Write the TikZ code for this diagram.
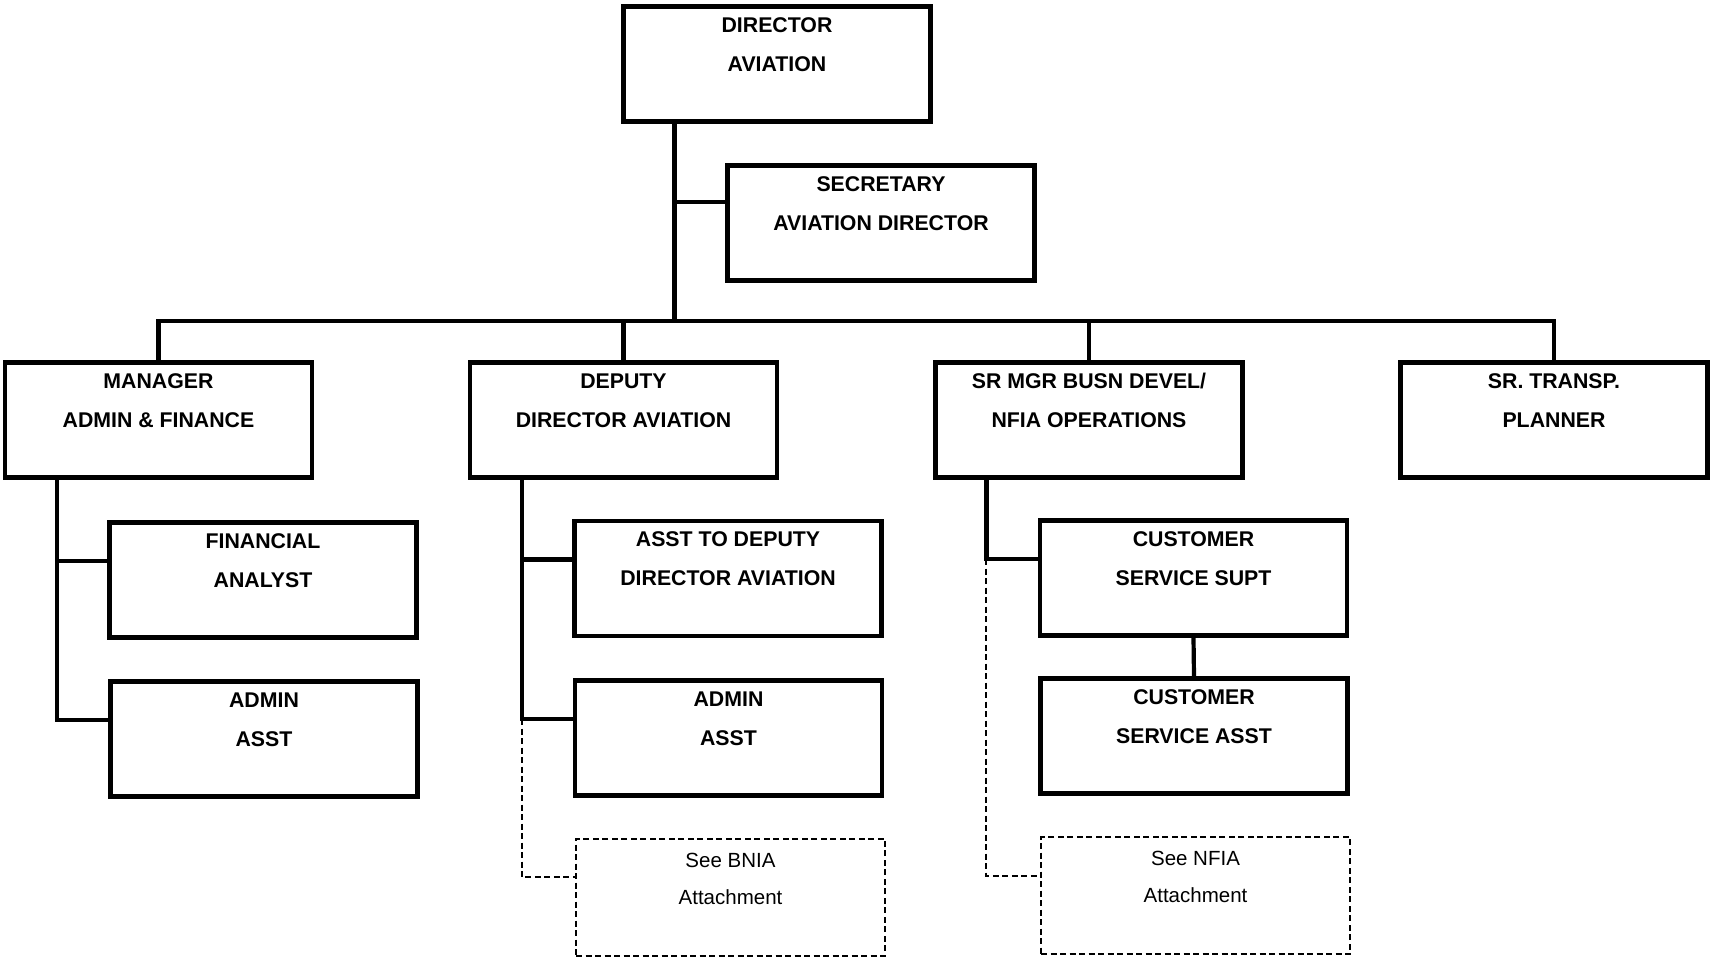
\documentclass[tikz,border=0pt]{standalone}
\usepackage{fontspec}
\setmainfont{Liberation Sans}
\usetikzlibrary{calc}

\tikzset{
  post/.style={draw, line width=4.2pt, rectangle, minimum width=307pt,
    minimum height=115pt, inner sep=0pt, align=center,
    font=\bfseries\fontsize{21.3}{39}\selectfont},
  ref/.style={draw, line width=2pt, dash pattern=on 6pt off 3.5pt,
    rectangle, minimum width=309pt, minimum height=117pt, inner sep=0pt,
    align=center, font=\fontsize{20.5}{37}\selectfont},
  link/.style={line width=4.2pt},
  dashlink/.style={line width=2pt, dash pattern=on 6pt off 3.5pt}
}

\begin{document}
\begin{tikzpicture}[x=1pt, y=-1pt]
  \useasboundingbox (0,0) rectangle (1711,960);

  % top level
  \node[post] (dir) at (777,64)   {DIRECTOR\\AVIATION\\~};
  \node[post] (sec) at (881,223)  {SECRETARY\\AVIATION DIRECTOR\\~};

  % second level
  \node[post] (mgr) at (158.5,420)  {MANAGER\\ADMIN \& FINANCE\\~};
  \node[post] (dep) at (623.5,420)  {DEPUTY\\DIRECTOR AVIATION\\~};
  \node[post] (srm) at (1089,420)   {SR MGR BUSN DEVEL/\\NFIA OPERATIONS\\~};
  \node[post] (trn) at (1554,420)   {SR. TRANSP.\\PLANNER\\~};

  % third level
  \node[post] (fin)  at (263,580)   {FINANCIAL\\ANALYST\\~};
  \node[post] (adm1) at (264,739)   {ADMIN\\ASST\\~};
  \node[post] (atd)  at (728,578.5) {ASST TO DEPUTY\\DIRECTOR AVIATION\\~};
  \node[post] (adm2) at (728.5,738) {ADMIN\\ASST\\~};
  \node[post] (css)  at (1193.5,578) {CUSTOMER\\SERVICE SUPT\\~};
  \node[post] (csa)  at (1194,736)  {CUSTOMER\\SERVICE ASST\\~};

  % references to attachments
  \node[ref] (bnia) at (730.5,897)  {See BNIA\\Attachment\\~};
  \node[ref] (nfia) at (1195.5,895.5) {See NFIA\\Attachment\\~};

  % trunk from the director and the main bus
  \coordinate (dirT) at ($(dir.south west)+(53pt,0)$);
  \coordinate (busY) at (0,321);
  \coordinate (secJ) at ($(sec.west)+(0,21pt)$);
  \draw[link] (dirT) -- (dirT |- busY);
  \draw[link] (dirT |- secJ) -- (secJ);
  \draw[link] (mgr.north) -- (mgr.north |- busY) -- (trn.north |- busY) -- (trn.north);
  \draw[link] (dep.north) -- (dep.north |- busY);
  \draw[link] (srm.north) -- (srm.north |- busY);

  % manager branch
  \coordinate (mgrT) at ($(mgr.south west)+(54pt,0)$);
  \draw[link] (mgrT) |- ($(fin.west)+(0,19pt)$);
  \draw[link] (mgrT) |- ($(adm1.west)+(0,19pt)$);

  % deputy branch
  \coordinate (depT) at ($(dep.south west)+(54pt,0)$);
  \coordinate (adm2J) at ($(adm2.west)+(0,19pt)$);
  \coordinate (bniaJ) at ($(bnia.west)+(0,20pt)$);
  \draw[link] (depT) |- ($(atd.west)+(0,19pt)$);
  \draw[link] (depT) |- (adm2J);
  \draw[dashlink] (adm2J -| depT) |- (bniaJ);

  % business development branch
  \coordinate (srmT) at ($(srm.south west)+(53pt,0)$);
  \coordinate (cssJ) at ($(css.west)+(0,19pt)$);
  \coordinate (nfiaJ) at ($(nfia.west)+(0,20pt)$);
  \draw[link] (srmT) |- (cssJ);
  \draw[link] (css.south) -- (csa.north);
  \draw[dashlink] (cssJ -| srmT) |- (nfiaJ);
\end{tikzpicture}
\end{document}
